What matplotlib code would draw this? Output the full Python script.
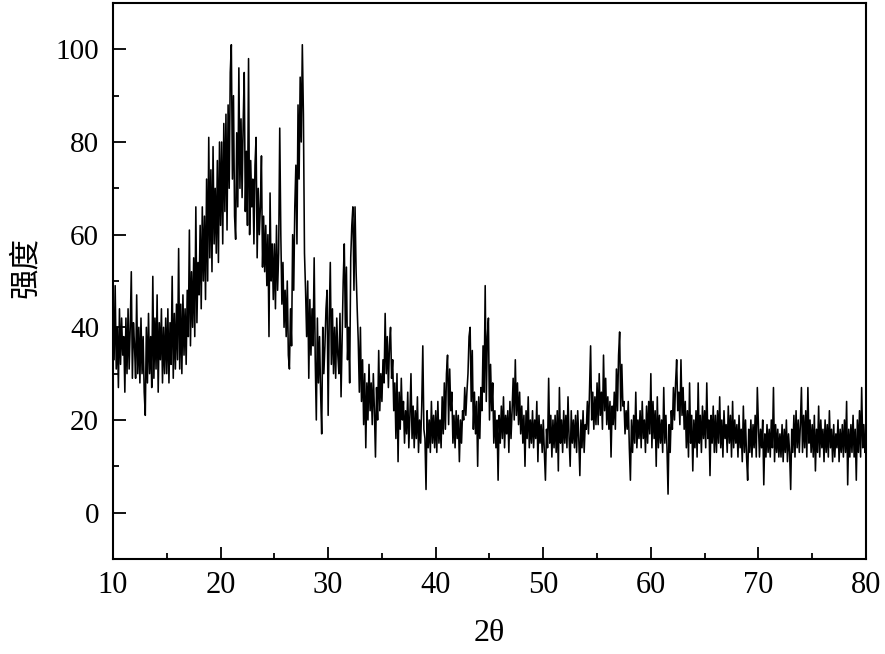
import numpy as np
import matplotlib
matplotlib.use("Agg")
import matplotlib.pyplot as plt
from matplotlib.ticker import MultipleLocator

# 2-theta start/step of the digitised pattern (values read at 0.1 deg)
theta_start = 10.0
theta_step = 0.1

# intensity values, one row per degree (10.0 ... 79.9), plus final point at 80.0
intensity_rows = [
    [43, 33, 49, 31, 40, 27, 44, 32, 42, 34],   # 10
    [38, 26, 42, 30, 44, 31, 40, 52, 29, 41],   # 11
    [36, 29, 47, 30, 40, 28, 42, 30, 38, 26],   # 12
    [21, 40, 28, 43, 30, 38, 27, 51, 29, 42],   # 13
    [31, 47, 26, 41, 33, 44, 28, 40, 30, 42],   # 14
    [30, 44, 28, 41, 32, 51, 29, 43, 31, 45],   # 15
    [33, 57, 31, 45, 30, 47, 34, 44, 32, 48],   # 16
    [38, 61, 36, 52, 40, 55, 38, 66, 41, 54],   # 17
    [47, 62, 44, 66, 50, 64, 46, 72, 50, 81],   # 18
    [55, 74, 52, 79, 58, 70, 56, 76, 54, 80],   # 19
    [62, 80, 58, 84, 65, 86, 61, 88, 70, 95],   # 20
    [101, 72, 90, 64, 59, 82, 66, 96, 70, 85],  # 21
    [68, 84, 95, 65, 78, 62, 98, 60, 76, 66],   # 22
    [72, 58, 75, 81, 55, 70, 60, 66, 77, 53],   # 23
    [64, 52, 62, 49, 60, 38, 69, 50, 58, 46],   # 24
    [58, 44, 62, 48, 56, 83, 60, 45, 54, 40],   # 25
    [48, 38, 50, 34, 31, 44, 36, 60, 48, 66],   # 26
    [75, 58, 88, 72, 94, 80, 101, 86, 56, 48],  # 27
    [38, 50, 29, 46, 34, 44, 36, 55, 33, 20],   # 28
    [42, 28, 38, 26, 17, 40, 30, 36, 44, 48],   # 29
    [21, 42, 54, 32, 44, 30, 40, 29, 42, 34],   # 30
    [30, 43, 25, 38, 50, 58, 40, 53, 33, 40],   # 31
    [28, 55, 62, 66, 48, 66, 52, 44, 37, 26],   # 32
    [40, 24, 33, 19, 30, 14, 28, 20, 32, 22],   # 33
    [28, 19, 30, 22, 12, 27, 20, 35, 22, 30],   # 34
    [24, 33, 28, 43, 30, 38, 27, 36, 40, 29],   # 35
    [33, 22, 28, 16, 30, 11, 26, 18, 29, 20],   # 36
    [24, 15, 22, 17, 26, 14, 21, 30, 16, 23],   # 37
    [14, 22, 16, 25, 13, 20, 15, 23, 36, 18],   # 38
    [16, 5, 22, 14, 20, 13, 24, 15, 21, 14],    # 39
    [22, 13, 24, 15, 20, 14, 25, 17, 28, 18],   # 40
    [30, 34, 19, 31, 22, 26, 15, 21, 14, 22],   # 41
    [16, 21, 11, 20, 15, 22, 20, 27, 21, 26],   # 42
    [30, 38, 40, 24, 35, 18, 26, 17, 24, 10],   # 43
    [25, 16, 27, 22, 36, 26, 49, 24, 38, 42],   # 44
    [20, 32, 22, 28, 15, 22, 14, 20, 7, 21],    # 45
    [15, 23, 16, 25, 14, 21, 17, 22, 13, 24],   # 46
    [16, 22, 29, 20, 33, 21, 28, 19, 26, 17],   # 47
    [23, 15, 21, 10, 22, 16, 25, 14, 20, 15],   # 48
    [22, 14, 20, 16, 24, 11, 21, 15, 19, 13],   # 49
    [20, 13, 7, 18, 14, 29, 15, 21, 12, 20],    # 50
    [14, 21, 13, 22, 9, 27, 15, 20, 13, 22],    # 51
    [15, 21, 14, 25, 16, 10, 22, 15, 20, 14],   # 52
    [21, 13, 22, 16, 8, 20, 14, 22, 13, 19],    # 53
    [18, 24, 17, 27, 36, 20, 26, 18, 25, 19],   # 54
    [28, 19, 30, 21, 26, 18, 34, 22, 29, 19],   # 55
    [25, 18, 24, 12, 23, 19, 26, 18, 31, 22],   # 56
    [34, 39, 22, 32, 23, 24, 17, 22, 18, 24],   # 57
    [14, 7, 20, 13, 21, 15, 26, 14, 20, 16],    # 58
    [22, 14, 24, 16, 20, 13, 23, 15, 24, 17],   # 59
    [30, 14, 24, 16, 22, 10, 25, 14, 21, 15],   # 60
    [20, 13, 27, 15, 21, 14, 4, 19, 13, 22],    # 61
    [18, 27, 20, 28, 33, 22, 26, 19, 33, 21],   # 62
    [27, 18, 24, 14, 22, 12, 28, 15, 21, 9],    # 63
    [20, 14, 22, 12, 28, 15, 21, 13, 23, 16],   # 64
    [22, 14, 28, 16, 20, 8, 21, 15, 23, 13],    # 65
    [21, 13, 22, 15, 25, 14, 20, 12, 22, 16],   # 66
    [19, 13, 23, 15, 21, 12, 24, 14, 20, 15],   # 67
    [19, 12, 21, 14, 18, 11, 23, 13, 20, 12],   # 68
    [7, 18, 13, 20, 12, 19, 14, 21, 12, 27],    # 69
    [19, 12, 18, 14, 20, 6, 17, 12, 19, 13],    # 70
    [18, 12, 20, 14, 27, 11, 19, 13, 18, 12],   # 71
    [17, 12, 19, 11, 18, 13, 20, 11, 17, 13],   # 72
    [5, 18, 13, 21, 12, 22, 14, 20, 13, 19],    # 73
    [27, 13, 21, 14, 22, 12, 27, 15, 20, 13],   # 74
    [19, 12, 21, 9, 18, 13, 23, 12, 20, 14],    # 75
    [18, 11, 20, 13, 19, 12, 22, 14, 18, 11],   # 76
    [19, 12, 17, 14, 20, 11, 18, 13, 19, 12],   # 77
    [20, 13, 24, 6, 18, 12, 19, 13, 21, 12],    # 78
    [18, 7, 20, 13, 22, 12, 27, 14, 19, 13],    # 79
]
intensity_last = [15]  # 80.0

x_ticks = [10, 20, 30, 40, 50, 60, 70, 80]
y_ticks = [0, 20, 40, 60, 80, 100]
x_label = "2θ"
y_label = "强度"

intensity = np.array([v for row in intensity_rows for v in row] + intensity_last, dtype=float)
two_theta = theta_start + theta_step * np.arange(len(intensity))

plt.rcParams['font.family'] = ['Liberation Serif', 'DejaVu Serif']
fig = plt.figure(figsize=(8.85, 6.54), dpi=100)
ax = fig.add_axes([0.1277, 0.1453, 0.8508, 0.8501])

ax.plot(two_theta, intensity, color='black', linewidth=1.15)

ax.set_xlim(10, 80)
ax.set_ylim(-10, 110)
ax.set_xticks(x_ticks)
ax.set_yticks(y_ticks)
ax.xaxis.set_minor_locator(MultipleLocator(5))
ax.yaxis.set_minor_locator(MultipleLocator(10))

ax.tick_params(axis='y', which='major', direction='in', length=9, width=1.3,
               labelsize=21, pad=10)
ax.tick_params(axis='x', which='major', direction='in', length=9, width=1.3,
               labelsize=22, pad=9)
ax.tick_params(axis='both', which='minor', direction='in', length=4.5, width=1.3)
ax.tick_params(top=False, right=False, which='both')
for sp in ax.spines.values():
    sp.set_linewidth(1.5)

ax.set_xlabel(x_label, fontsize=23)
ax.xaxis.set_label_coords(0.5, -0.108)
ax.set_ylabel(y_label, fontsize=22, family=['Noto Sans CJK SC', 'DejaVu Sans'])
ax.yaxis.set_label_coords(-0.095, 0.525)

fig.savefig("out.png", dpi=100)
